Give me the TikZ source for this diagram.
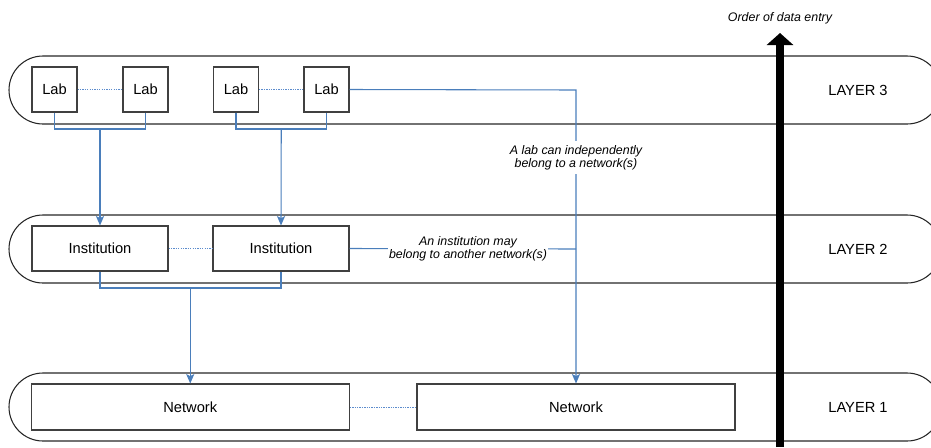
\documentclass[tikz,border=0pt]{standalone}
\usepackage{fontspec}
\setmainfont{Liberation Sans}
\usetikzlibrary{arrows.meta}
\definecolor{linkblue}{RGB}{74,126,187}
\definecolor{peerblue}{RGB}{92,140,205}
\definecolor{boxgray}{RGB}{64,64,64}
\begin{document}
\begin{tikzpicture}[x=0.75pt,y=-0.75pt,
  band/.style={draw=black!85, line width=0.8pt, rounded corners=25.5pt},
  unitbox/.style={draw=boxgray, line width=0.8pt, fill=white, inner sep=0pt,
    font=\fontsize{11}{13}\selectfont},
  labbox/.style={unitbox, minimum width=33.75pt, minimum height=33.75pt},
  instbox/.style={unitbox, minimum width=102pt, minimum height=33.75pt},
  netbox/.style={unitbox, minimum width=238.5pt, minimum height=34.5pt},
  layerlabel/.style={font=\fontsize{11}{13}\selectfont},
  note/.style={font=\fontsize{9.3}{10}\selectfont\itshape, align=center},
  conn/.style={draw=linkblue, line width=0.8pt},
  connarrow/.style={conn, -{Stealth[length=7pt,width=6pt,inset=1.5pt]}},
  peer/.style={draw=peerblue, line width=0.75pt, dash pattern=on 1pt off 0.8pt},
  order/.style={line width=6pt, -{Triangle[width=19.5pt,length=9pt]}}
]
\useasboundingbox (0,0) rectangle (931,447);
\begin{scope}
  \clip (0,0) rectangle (931,447);
  \draw[band] (9,56) rectangle (941,124);
  \draw[band] (9,215) rectangle (941,283);
  \draw[band] (9,373) rectangle (941,441);
\end{scope}

% layer 3
\node[labbox] (lab1) at (54.5,89.5) {Lab};
\node[labbox] (lab2) at (145.5,89.5) {Lab};
\node[labbox] (lab3) at (236,89.5) {Lab};
\node[labbox] (lab4) at (326.5,89.5) {Lab};
% layer 2
\node[instbox] (inst1) at (100,248.5) {Institution};
\node[instbox] (inst2) at (281,248.5) {Institution};
% layer 1
\node[netbox] (net1) at (190.25,407) {Network};
\node[netbox] (net2) at (576,407) {Network};

% layer labels
\node[layerlabel] (l3) at (858,90) {LAYER 3};
\node[layerlabel] (l2) at (858,249) {LAYER 2};
\node[layerlabel] (l1) at (858,407) {LAYER 1};

% peer links
\draw[peer] (lab1) -- (lab2);
\draw[peer] (lab3) -- (lab4);
\draw[peer] (inst1) -- (inst2);
\draw[peer] (net1) -- (net2);

% lab -> institution brackets
\coordinate (b1) at (100,129);
\coordinate (b2) at (281.25,129);
\draw[conn] (lab1.south) -- (lab1.south |- b1) -- (lab2.south |- b1) -- (lab2.south);
\draw[connarrow] (b1) -- (inst1.north);
\draw[conn] (lab3.south) -- (lab3.south |- b2) -- (lab4.south |- b2) -- (lab4.south);
\draw[connarrow] (b2) -- (inst2.north);

% institution -> network bracket
\coordinate (b3) at (190.25,288);
\draw[conn] (inst1.south) -- (inst1.south |- b3) -- (inst2.south |- b3) -- (inst2.south);
\draw[connarrow] (b3) -- (net1.north);

% lab -> network directly
\coordinate (c1) at (576,90);
\draw[connarrow] (lab4.east) -- (c1) -- (net2.north);
\node[note, fill=white, inner xsep=1pt, inner ysep=3pt] (n1) at (576,157.5)
  {A lab can independently\\belong to a network(s)};

% institution -> other network
\coordinate (j) at (576,249);
\draw[conn] (inst2.east) -- (j);
\node[note, fill=white, inner sep=0.5pt] (n2) at (468,248.5)
  {An institution may\\belong to another network(s)};

% order of data entry
\coordinate (ob) at (780,447);
\coordinate (ot) at (780,33);
\draw[order] (ob) -- (ot);
\node[note] (ol) at (780,18) {Order of data entry};
\end{tikzpicture}
\end{document}
